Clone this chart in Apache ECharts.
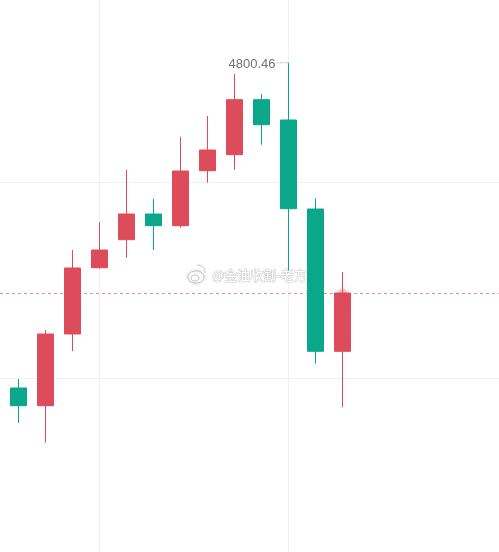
<!DOCTYPE html>
<html><head><meta charset="utf-8">
<script src="https://cdn.jsdelivr.net/npm/echarts@6/dist/echarts.min.js"></script>
<style>html,body{margin:0;padding:0;background:#fff;overflow:hidden}#c{width:499px;height:552px}</style>
</head><body><div id="c"></div>
<script>
// ---- data ----
const categories = ['D1','D2','D3','D4','D5','D6','D7','D8','D9','D10','D11','D12','D13'];
const opens  = [4475.16, 4457.46, 4529.20, 4595.46, 4623.46, 4649.16, 4637.46, 4692.46, 4708.46, 4763.46, 4743.16, 4654.16, 4511.86];
const closes = [4457.46, 4529.16, 4595.16, 4613.16, 4649.16, 4637.46, 4692.16, 4713.16, 4763.46, 4738.46, 4654.46, 4511.86, 4570.16];
const lows   = [4440.16, 4420.46, 4512.16, 4594.46, 4605.46, 4613.16, 4635.46, 4680.46, 4693.46, 4718.46, 4591.46, 4499.46, 4455.86];
const highs  = [4484.16, 4533.16, 4613.16, 4641.16, 4693.16, 4664.16, 4726.46, 4747.16, 4789.16, 4769.16, 4800.46, 4664.86, 4591.16];
const gridLevels = [4680.46, 4484.86];
const gridCategories = ['D4', 'D11'];
const highLabel = '4800.46';
const watermark = '@金油收割-老方';
const yMin = 4311.16, yMax = 4863.16;
const xMin = -0.685, xMax = 17.796;

const UP = '#DC4C5A', DOWN = '#0BA78A';
const candleData = categories.map((c, i) => [i, opens[i], closes[i], lows[i], highs[i]]);
const last = categories.length - 1;
const hi = 10;

const chart = echarts.init(document.getElementById('c'), null, {renderer: 'canvas'});
chart.setOption({
  animation: false,
  backgroundColor: '#ffffff',
  grid: {left: 0, right: 0, top: 0, bottom: 0},
  xAxis: {
    type: 'value', min: xMin, max: xMax,
    axisLine: {show: false}, axisTick: {show: false}, axisLabel: {show: false}, splitLine: {show: false}
  },
  yAxis: {
    type: 'value', min: yMin, max: yMax, scale: true,
    axisLine: {show: false}, axisTick: {show: false}, axisLabel: {show: false}, splitLine: {show: false}
  },
  series: [
    {
      type: 'line', data: [], z: 1, silent: true,
      markLine: {
        z: 1, silent: true, symbol: 'none', label: {show: false},
        lineStyle: {color: '#eff0f3', width: 1, type: 'solid'},
        data: gridLevels.map(v => ({yAxis: v}))
          .concat(gridCategories.map(c => ({xAxis: categories.indexOf(c)})))
      }
    },
    {
      type: 'line', data: [], z: 2, silent: true,
      markLine: {
        z: 2, silent: true, symbol: 'none', label: {show: false},
        data: [{yAxis: closes[last], lineStyle: {color: '#eb8e97', width: 1, type: [3, 3], opacity: 1}}]
      }
    },
    {
      type: 'candlestick', z: 3, barWidth: 17,
      encode: {x: 0, y: [1, 2, 3, 4]},
      data: candleData,
      itemStyle: {color: UP, color0: DOWN, borderColor: UP, borderColor0: DOWN, borderWidth: 1},
      markPoint: {
        silent: true,
        symbol: 'path://M0,0h1v1h-1zM3,0h1v1h-1zM6,0h1v1h-1zM9,0h1v1h-1z',
        symbolSize: [10, 1], symbolOffset: [-6, 0],
        itemStyle: {color: '#8a8d96'},
        label: {show: true, position: 'left', distance: 2, formatter: highLabel,
                color: '#6f727c', fontSize: 13, fontFamily: 'Liberation Sans, Arial, sans-serif', offset: [0, 2]},
        data: [{coord: [hi, highs[hi]]}]
      }
    },
    {
      type: 'scatter', z: 4, silent: true,
      data: [[last, closes[last]]],
      symbolSize: 9,
      itemStyle: {color: 'rgba(220,76,90,0.35)', shadowBlur: 8, shadowColor: 'rgba(220,76,90,0.7)'}
    }
  ],
  graphic: [
    {type: 'ellipse', shape: {cx: 196, cy: 277, rx: 8, ry: 6}, z: 50,
     style: {fill: '#ffffff', stroke: '#c2c2c2', lineWidth: 1, shadowBlur: 4, shadowColor: 'rgba(0,0,0,0.15)'}},
    {type: 'ellipse', shape: {cx: 195, cy: 278, rx: 4, ry: 3}, z: 51,
     style: {fill: '#ffffff', stroke: '#c2c2c2', lineWidth: 1}},
    {type: 'arc', shape: {cx: 198, cy: 272, r: 7, startAngle: -Math.PI * 0.55, endAngle: 0.1}, z: 51,
     style: {fill: 'none', stroke: '#c2c2c2', lineWidth: 1}},
    {type: 'text', x: 212, y: 275, z: 52,
     style: {text: watermark, font: '13px "Noto Sans CJK SC"', fill: '#ffffff', stroke: '#c8c8c8', lineWidth: 1,
             verticalAlign: 'middle', shadowBlur: 5, shadowColor: 'rgba(0,0,0,0.18)'}}
  ]
});
</script>
</body></html>
